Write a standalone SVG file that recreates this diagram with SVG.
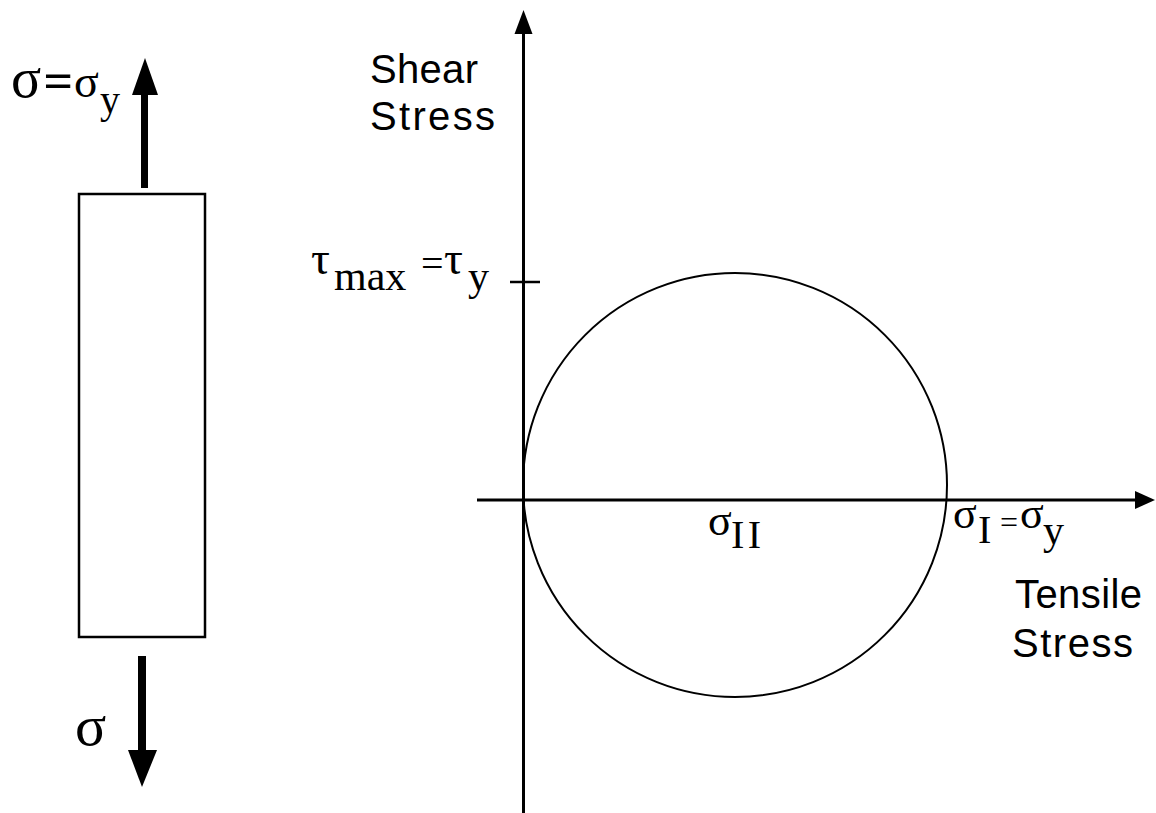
<svg xmlns="http://www.w3.org/2000/svg" width="1156" height="813" viewBox="0 0 1156 813">
<style>
.ln{stroke:#000;fill:none}
.serif{font-family:"Liberation Serif","Times New Roman",serif;fill:#000}
.sans{font-family:"Liberation Sans",Arial,sans-serif;font-size:40px;fill:#000}
</style>
<rect width="1156" height="813" fill="#fff"/>
<g id="bar">
<rect x="79" y="194" width="126" height="443" class="ln" stroke-width="2.5"/>
</g>
<g id="load-arrows">
<rect x="141" y="93" width="7" height="95" fill="#000"/>
<polygon points="145,58 132,95 158,95" fill="#000"/>
<rect x="138" y="656" width="8" height="96" fill="#000"/>
<polygon points="128,750 157,750 142,787" fill="#000"/>
</g>
<g id="labels-left" class="serif">
<text x="11" y="97" font-size="56">σ</text>
<text x="44" y="98" font-size="50" stroke="#000" stroke-width="1">=</text>
<text x="74" y="97" font-size="46">σ</text>
<text x="100" y="113" font-size="40">y</text>
<text x="75" y="745" font-size="58">σ</text>
</g>
<g id="axes">
<line x1="523.5" y1="30" x2="523.5" y2="813" class="ln" stroke-width="3"/>
<polygon points="523.5,10 514.5,34 532.5,34" fill="#000"/>
<line x1="477" y1="500" x2="1137" y2="500" class="ln" stroke-width="3"/>
<polygon points="1155,500 1135,491 1135,509" fill="#000"/>
<line x1="510" y1="282" x2="540" y2="282" class="ln" stroke-width="2.5"/>
</g>
<g id="mohr-circle">
<circle cx="735" cy="485" r="212" class="ln" stroke-width="2"/>
</g>
<g id="axis-labels" class="sans">
<text x="370" y="83" textLength="108" lengthAdjust="spacing">Shear</text>
<text x="370" y="130" textLength="125" lengthAdjust="spacing">Stress</text>
<text x="1015" y="608" textLength="127" lengthAdjust="spacing">Tensile</text>
<text x="1012" y="657" textLength="121" lengthAdjust="spacing">Stress</text>
</g>
<g id="tau-label" class="serif">
<text x="311" y="274" font-size="47">τ</text>
<text x="334" y="290" font-size="42">max</text>
<text x="421" y="277" font-size="40">=</text>
<text x="444" y="274" font-size="47">τ</text>
<text x="468" y="290" font-size="42">y</text>
</g>
<g id="sigma-labels" class="serif">
<text x="708" y="535" font-size="44">σ</text>
<text x="731" y="548" font-size="40" textLength="30" lengthAdjust="spacing">II</text>
<text x="953" y="528" font-size="44">σ</text>
<text x="978" y="543" font-size="40">I</text>
<text x="1000" y="533" font-size="32">=</text>
<text x="1020" y="528" font-size="44">σ</text>
<text x="1043" y="544" font-size="42">y</text>
</g>
</svg>
